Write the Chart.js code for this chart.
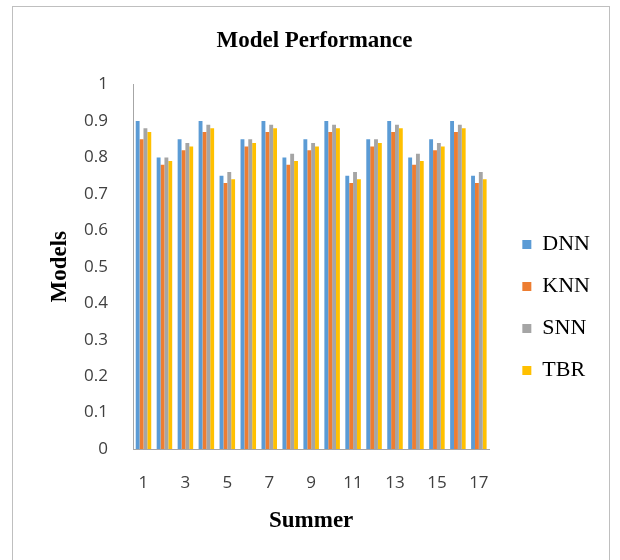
<!DOCTYPE html>
<html>
<head>
<meta charset="utf-8">
<script src="https://cdn.jsdelivr.net/npm/chart.js@4"></script>
<style>
  html, body { margin: 0; padding: 0; background: #fff; }
  #wrap { position: relative; width: 620px; height: 560px; }
  #frame { position: absolute; left: 12px; top: 6px; width: 598px; height: 600px; border: 1px solid #bfbfbf; box-sizing: border-box; }
  canvas { position: absolute; left: 0; top: 0; }
</style>
</head>
<body>
<div id="wrap">
  <div id="frame"></div>
  <canvas id="chart" width="620" height="560"></canvas>
</div>
<script>
// categories (summer index)
const categories = ['1','2','3','4','5','6','7','8','9','10','11','12','13','14','15','16','17'];

// series values
const dnn = [0.90, 0.80, 0.85, 0.90, 0.75, 0.85, 0.90, 0.80, 0.85, 0.90, 0.75, 0.85, 0.90, 0.80, 0.85, 0.90, 0.75];
const knn = [0.85, 0.78, 0.82, 0.87, 0.73, 0.83, 0.87, 0.78, 0.82, 0.87, 0.73, 0.83, 0.87, 0.78, 0.82, 0.87, 0.73];
const snn = [0.88, 0.80, 0.84, 0.89, 0.76, 0.85, 0.89, 0.81, 0.84, 0.89, 0.76, 0.85, 0.89, 0.81, 0.84, 0.89, 0.76];
const tbr = [0.87, 0.79, 0.83, 0.88, 0.74, 0.84, 0.88, 0.79, 0.83, 0.88, 0.74, 0.84, 0.88, 0.79, 0.83, 0.88, 0.74];

const seriesNames = ['DNN', 'KNN', 'SNN', 'TBR'];
const seriesColors = ['#5B9BD5', '#ED7D31', '#A5A5A5', '#FFC000'];

const tickFont = { family: 'Open Sans', size: 17 };
const serif = 'Liberation Serif';

// nudge the legend block right/down like the original sheet
const legendShift = {
  id: 'legendShift',
  afterLayout(chart) {
    const lg = chart.legend;
    if (!lg) return;
    lg.left += 13; lg.right += 13;
    lg.top += 38; lg.bottom += 38;
  }
};

const ctx = document.getElementById('chart').getContext('2d');
new Chart(ctx, {
  type: 'bar',
  data: {
    labels: categories,
    datasets: [dnn, knn, snn, tbr].map((vals, i) => ({
      label: seriesNames[i],
      data: vals,
      backgroundColor: seriesColors[i],
      borderWidth: 0,
      categoryPercentage: 0.74,
      barPercentage: 1.0
    }))
  },
  plugins: [legendShift],
  options: {
    responsive: false,
    animation: false,
    layout: { padding: { left: 42, right: 33, top: 0, bottom: 21 } },
    plugins: {
      title: {
        display: true,
        text: 'Model Performance',
        color: '#000',
        font: { family: serif, size: 23, weight: 'bold' },
        padding: { top: 27, bottom: 30 }
      },
      legend: {
        position: 'right',
        labels: {
          color: '#000',
          font: { family: serif, size: 22 },
          boxWidth: 9,
          boxHeight: 9,
          padding: 20
        }
      },
      tooltip: { enabled: false }
    },
    scales: {
      x: {
        grid: { display: false },
        border: { display: true, color: '#a6a6a6' },
        ticks: {
          color: '#404040',
          font: tickFont,
          padding: 16,
          autoSkip: false,
          maxRotation: 0,
          callback: (v, i) => (i % 2 === 0 ? categories[i] : '')
        },
        title: {
          display: true,
          text: 'Summer',
          color: '#000',
          font: { family: serif, size: 23, weight: 'bold' },
          padding: { top: -2, bottom: 4 }
        }
      },
      y: {
        min: 0,
        max: 1,
        afterFit: s => { s.width = 91; },
        grid: { display: false },
        border: { display: true, color: '#a6a6a6' },
        ticks: {
          stepSize: 0.1,
          color: '#404040',
          font: tickFont,
          padding: 17,
          callback: v => String(+v.toFixed(1))
        },
        title: {
          display: true,
          text: 'Models',
          color: '#000',
          font: { family: serif, size: 23, weight: 'bold' },
          padding: { top: 4, bottom: 0 }
        }
      }
    }
  }
});
</script>
</body>
</html>
